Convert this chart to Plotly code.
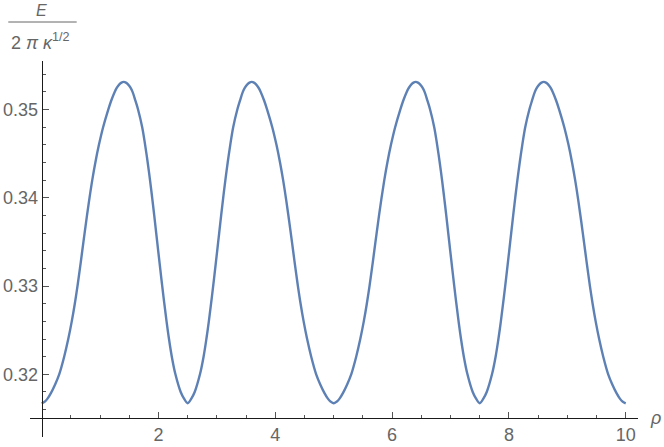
import plotly.graph_objects as go

# values, one list pair per hump
rho_a = [0.000, 0.050, 0.100, 0.160, 0.230, 0.300, 0.385, 0.455, 0.515, 0.567, 0.613,
         0.655, 0.695, 0.735, 0.776, 0.819, 0.866, 0.919, 0.980, 1.052, 1.140, 1.190,
         1.250, 1.290, 1.330, 1.366, 1.404, 1.442, 1.478, 1.518, 1.556, 1.605, 1.650,
         1.721, 1.771, 1.815, 1.855, 1.892, 1.927, 1.961, 1.995, 2.029, 2.064, 2.100,
         2.138, 2.180, 2.228, 2.290, 2.380, 2.435, 2.500]
e_a = [0.31672, 0.31690, 0.31725, 0.31790, 0.31885, 0.3200, 0.3220, 0.3240, 0.3260, 0.3280,
       0.3300, 0.3320, 0.3340, 0.3360, 0.3380, 0.3400, 0.3420, 0.3440, 0.3460, 0.3480,
       0.3500, 0.3510, 0.3520, 0.3525, 0.35285, 0.35305, 0.35313, 0.35305, 0.35285, 0.3525,
       0.3520, 0.3510, 0.3500, 0.3480, 0.3460, 0.3440, 0.3420, 0.3400, 0.3380, 0.3360,
       0.3340, 0.3320, 0.3300, 0.3280, 0.3260, 0.3240, 0.3220, 0.3200, 0.3180, 0.31728,
       0.31672]

rho_b = [2.565, 2.620, 2.710, 2.772, 2.820, 2.862, 2.900, 2.936, 2.971, 3.005, 3.039,
         3.073, 3.108, 3.145, 3.185, 3.229, 3.279, 3.350, 3.395, 3.444, 3.482, 3.522,
         3.558, 3.596, 3.634, 3.670, 3.710, 3.750, 3.810, 3.860, 3.948, 4.020, 4.081,
         4.134, 4.181, 4.224, 4.265, 4.305, 4.345, 4.387, 4.433, 4.485, 4.545, 4.615,
         4.700, 4.770, 4.840, 4.900, 4.950, 5.000]
e_b = [0.31728, 0.3180, 0.3200, 0.3220, 0.3240, 0.3260, 0.3280, 0.3300, 0.3320, 0.3340,
       0.3360, 0.3380, 0.3400, 0.3420, 0.3440, 0.3460, 0.3480, 0.3500, 0.3510, 0.3520,
       0.3525, 0.35285, 0.35305, 0.35313, 0.35305, 0.35285, 0.3525, 0.3520, 0.3510, 0.3500,
       0.3480, 0.3460, 0.3440, 0.3420, 0.3400, 0.3380, 0.3360, 0.3340, 0.3320, 0.3300,
       0.3280, 0.3260, 0.3240, 0.3220, 0.3200, 0.31885, 0.31790, 0.31725, 0.31690, 0.31672]

rho_c = [5.050, 5.100, 5.160, 5.230, 5.300, 5.385, 5.455, 5.515, 5.567, 5.613, 5.655,
         5.695, 5.735, 5.776, 5.819, 5.866, 5.919, 5.980, 6.052, 6.140, 6.190, 6.250,
         6.290, 6.330, 6.366, 6.404, 6.442, 6.478, 6.518, 6.556, 6.605, 6.650, 6.721,
         6.771, 6.815, 6.855, 6.892, 6.927, 6.961, 6.995, 7.029, 7.064, 7.100, 7.138,
         7.180, 7.228, 7.290, 7.380, 7.435, 7.500]
e_c = [0.31690, 0.31725, 0.31790, 0.31885, 0.3200, 0.3220, 0.3240, 0.3260, 0.3280, 0.3300,
       0.3320, 0.3340, 0.3360, 0.3380, 0.3400, 0.3420, 0.3440, 0.3460, 0.3480, 0.3500,
       0.3510, 0.3520, 0.3525, 0.35285, 0.35305, 0.35313, 0.35305, 0.35285, 0.3525, 0.3520,
       0.3510, 0.3500, 0.3480, 0.3460, 0.3440, 0.3420, 0.3400, 0.3380, 0.3360, 0.3340,
       0.3320, 0.3300, 0.3280, 0.3260, 0.3240, 0.3220, 0.3200, 0.3180, 0.31728, 0.31672]

rho_d = [7.565, 7.620, 7.710, 7.772, 7.820, 7.862, 7.900, 7.936, 7.971, 8.005, 8.039,
         8.073, 8.108, 8.145, 8.185, 8.229, 8.279, 8.350, 8.395, 8.444, 8.482, 8.522,
         8.558, 8.596, 8.634, 8.670, 8.710, 8.750, 8.810, 8.860, 8.948, 9.020, 9.081,
         9.134, 9.181, 9.224, 9.265, 9.305, 9.345, 9.387, 9.433, 9.485, 9.545, 9.615,
         9.700, 9.770, 9.840, 9.900, 9.950, 10.000]
e_d = [0.31728, 0.3180, 0.3200, 0.3220, 0.3240, 0.3260, 0.3280, 0.3300, 0.3320, 0.3340,
       0.3360, 0.3380, 0.3400, 0.3420, 0.3440, 0.3460, 0.3480, 0.3500, 0.3510, 0.3520,
       0.3525, 0.35285, 0.35305, 0.35313, 0.35305, 0.35285, 0.3525, 0.3520, 0.3510, 0.3500,
       0.3480, 0.3460, 0.3440, 0.3420, 0.3400, 0.3380, 0.3360, 0.3340, 0.3320, 0.3300,
       0.3280, 0.3260, 0.3240, 0.3220, 0.3200, 0.31885, 0.31790, 0.31725, 0.31690, 0.31672]

rho = rho_a + rho_b + rho_c + rho_d
energy = e_a + e_b + e_c + e_d

x_ticks = [2, 4, 6, 8, 10]
x_minor = [0.5, 1, 1.5, 2.5, 3, 3.5, 4.5, 5, 5.5, 6.5, 7, 7.5, 8.5, 9, 9.5]
y_ticks = [0.32, 0.33, 0.34, 0.35]
y_minor = [0.316, 0.318, 0.322, 0.324, 0.326, 0.328, 0.332, 0.334, 0.336, 0.338,
           0.342, 0.344, 0.346, 0.348, 0.352, 0.354]

x_range = [-0.2, 10.21]
y_range = [0.3129, 0.3555]
x_cross = 0
y_cross = 0.315

label_font = dict(family="Liberation Sans, Arial, sans-serif", size=18, color="#666666")
axis_color = "#1a1a1a"
tick_color = "#555555"

fig = go.Figure()
fig.add_trace(go.Scatter(
    x=rho, y=energy, mode="lines",
    line=dict(color="#5E81B5", width=2.4, shape="spline", smoothing=1.0),
    showlegend=False, hoverinfo="skip",
))

fig.update_layout(
    width=664, height=447,
    margin=dict(l=30, r=26, t=61, b=10),
    plot_bgcolor="white", paper_bgcolor="white",
    xaxis=dict(
        range=x_range, showgrid=False, zeroline=False,
        anchor="free",
        position=(y_cross - y_range[0]) / (y_range[1] - y_range[0]),
        showline=True, linecolor=axis_color, linewidth=1.2,
        tickmode="array", tickvals=x_ticks, ticktext=[str(v) for v in x_ticks],
        ticks="inside", ticklen=6, tickwidth=1, tickcolor=tick_color,
        minor=dict(tickmode="array", tickvals=x_minor, ticks="inside",
                   ticklen=3.5, tickwidth=1, tickcolor=tick_color),
        tickfont=label_font, automargin=False,
    ),
    yaxis=dict(
        range=y_range, showgrid=False, zeroline=False,
        anchor="free",
        position=(x_cross - x_range[0]) / (x_range[1] - x_range[0]),
        showline=True, linecolor=axis_color, linewidth=1.2,
        tickmode="array", tickvals=y_ticks, ticktext=["0.32", "0.33", "0.34", "0.35"],
        ticks="inside", ticklen=6, tickwidth=1, tickcolor=tick_color,
        minor=dict(tickmode="array", tickvals=y_minor, ticks="inside",
                   ticklen=3.5, tickwidth=1, tickcolor=tick_color),
        tickfont=label_font, automargin=False,
    ),
)

# axis labels: rho at the right end, E / (2 pi kappa^1/2) fraction on top
fig.add_annotation(
    text="<i>ρ</i>", xref="paper", yref="paper", x=1.0296, y=0.05,
    showarrow=False, xanchor="center", yanchor="middle", font=label_font,
)
fig.add_annotation(
    text="<i>E</i>", xref="paper", yref="paper", x=0.0192, y=1.1622,
    showarrow=False, xanchor="center", yanchor="top",
    font=dict(family=label_font["family"], size=16, color="#666666"),
)
fig.add_annotation(
    text="2 <i>π</i> <i>κ</i><sup>1/2</sup>", xref="paper", yref="paper", x=0.0173, y=1.053,
    showarrow=False, xanchor="center", yanchor="middle", font=label_font,
)
fig.add_shape(
    type="line", xref="paper", yref="paper",
    x0=-0.0357, x1=0.0768, y0=1.1037, y1=1.1037,
    line=dict(color="#666666", width=1),
)

# the page body has a default 8px margin; remove it so the figure sits at the corner
fig.write_html("out.html", config={"displayModeBar": False},
               post_script="document.body.style.margin='0';")
